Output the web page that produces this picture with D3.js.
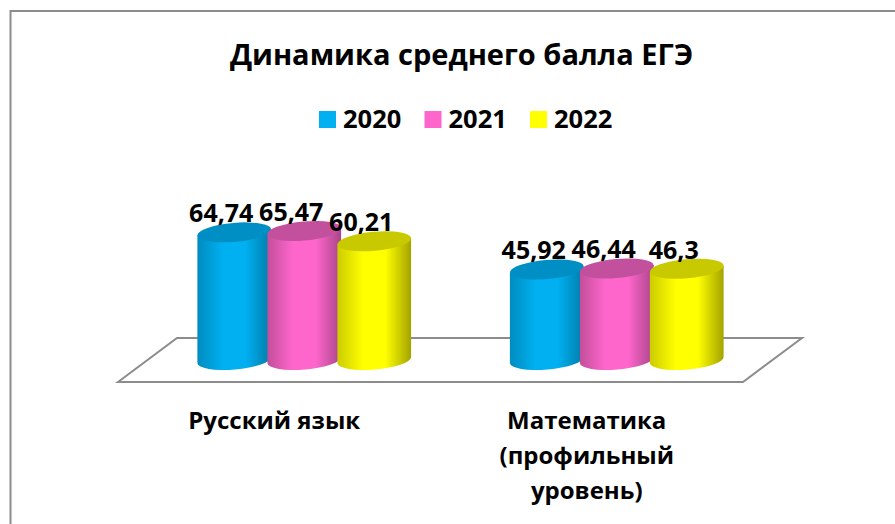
<!DOCTYPE html>
<html>
<head>
<meta charset="utf-8">
<script src="https://cdn.jsdelivr.net/npm/d3@7"></script>
<style>
  html, body { margin: 0; padding: 0; background: #fff; }
  svg { display: block; }
  text { font-family: "Open Sans", sans-serif; font-weight: 700; fill: #000; }
</style>
</head>
<body>
<div id="chart"></div>
<script>
const categories = ["Русский язык", "Математика (профильный уровень)"];
const categoryLines = [["Русский язык"], ["Математика", "(профильный", "уровень)"]];
const years = ["2020", "2021", "2022"];
const values2020 = [64.74, 45.92];
const values2021 = [65.47, 46.44];
const values2022 = [60.21, 46.3];
const seriesValues = [values2020, values2021, values2022];
const colors = ["#00b0f0", "#ff66cc", "#ffff00"];
const sideDark = ["#008cc0", "#c24f9b", "#cccc00"];
const sideDarker = ["#007ca9", "#a9458a", "#a3a300"];
const topColors = ["#008fc4", "#c2509c", "#c9c900"];
const titleText = "Динамика среднего балла ЕГЭ";

const width = 895, height = 524;
const depthX = 59, floorFront = 382, floorBack = 338;
const rx = 37, ry = 9.5, tilt = 5;

const svg = d3.select("#chart").append("svg")
  .attr("width", width)
  .attr("height", height);

// frame, only the top and left edges are inside the picture
svg.append("path")
  .attr("d", "M10.5," + height + "V11H" + width)
  .attr("fill", "none")
  .attr("stroke", "#8c8c8c")
  .attr("stroke-width", 2);

svg.append("text")
  .attr("x", 461.5)
  .attr("y", 65)
  .attr("text-anchor", "middle")
  .style("font-size", "29px")
  .text(titleText);

// legend
let legendX = d3.scalePoint().domain(years).range([319, 530]);
let legend = svg.selectAll(".legend").data(years).enter().append("g")
  .attr("class", "legend")
  .attr("transform", d => "translate(" + legendX(d) + ",111)");
legend.append("rect")
  .attr("width", 17)
  .attr("height", 17)
  .attr("fill", (d, i) => colors[i]);
legend.append("text")
  .attr("x", 24)
  .attr("y", 17)
  .style("font-size", "25.5px")
  .text(d => d);

let x = d3.scaleBand().domain(categories).range([118, 743]);
let y = d3.scaleLinear().domain([0, 70]).range([360, 222]);
let xSeries = d3.scaleBand().domain(years).range([-104.5, 105.5]);

// floor of the 3d plot
let floorPts = [
  [x.range()[0], floorFront],
  [x.range()[0] + depthX, floorBack],
  [x.range()[1] + depthX, floorBack],
  [x.range()[1], floorFront]
];
svg.append("path")
  .attr("d", d3.line()(floorPts) + "Z")
  .attr("fill", "#fff")
  .attr("stroke", "#8c8c8c")
  .attr("stroke-width", 2);

let defs = svg.append("defs");
years.forEach((yr, i) => {
  let g = defs.append("linearGradient").attr("id", "side" + i);
  [[0, sideDark[i]], [0.35, colors[i]], [0.65, colors[i]], [1, sideDarker[i]]].forEach(s => {
    g.append("stop").attr("offset", s[0]).attr("stop-color", s[1]);
  });
});

const dx = rx * Math.cos(tilt * Math.PI / 180);
const dy = rx * Math.sin(tilt * Math.PI / 180);

function cylinderSide(cx, top, bottom) {
  return "M" + (cx - dx) + "," + (top + dy) +
    "L" + (cx - dx) + "," + (bottom + dy) +
    "A" + rx + "," + ry + "," + (-tilt) + ",0,0," + (cx + dx) + "," + (bottom - dy) +
    "L" + (cx + dx) + "," + (top - dy) + "Z";
}

let cx = (c, s) => x(c) + x.bandwidth() / 2 + depthX / 2 + xSeries(s) + xSeries.bandwidth() / 2;

years.forEach((yr, i) => {
  let g = svg.append("g").attr("class", "series");
  let bars = g.selectAll("g").data(categories).enter().append("g");
  bars.append("path")
    .attr("d", (c, j) => cylinderSide(cx(c, yr), y(seriesValues[i][j]), y(0)))
    .attr("fill", "url(#side" + i + ")");
  bars.append("ellipse")
    .attr("rx", rx)
    .attr("ry", ry)
    .attr("fill", topColors[i])
    .attr("transform", (c, j) => "translate(" + cx(c, yr) + "," + y(seriesValues[i][j]) + ") rotate(" + (-tilt) + ")");
});

// value labels go above everything
years.forEach((yr, i) => {
  svg.append("g").selectAll("text").data(categories).enter().append("text")
    .attr("x", c => cx(c, yr) - 13)
    .attr("y", (c, j) => y(seriesValues[i][j]) - 10)
    .attr("text-anchor", "middle")
    .style("font-size", "25px")
    .text((c, j) => String(seriesValues[i][j]).replace(".", ","));
});

// category labels, wrapped like the original
let catLabels = svg.selectAll(".cat").data(categories).enter().append("text")
  .attr("class", "cat")
  .attr("text-anchor", "middle")
  .style("font-size", "24px");
catLabels.selectAll("tspan").data((c, j) => categoryLines[j].map(t => ({ t, c }))).enter().append("tspan")
  .attr("x", d => x(d.c) + x.bandwidth() / 2)
  .attr("y", (d, k) => 429 + k * 35)
  .text(d => d.t);
</script>
</body>
</html>
